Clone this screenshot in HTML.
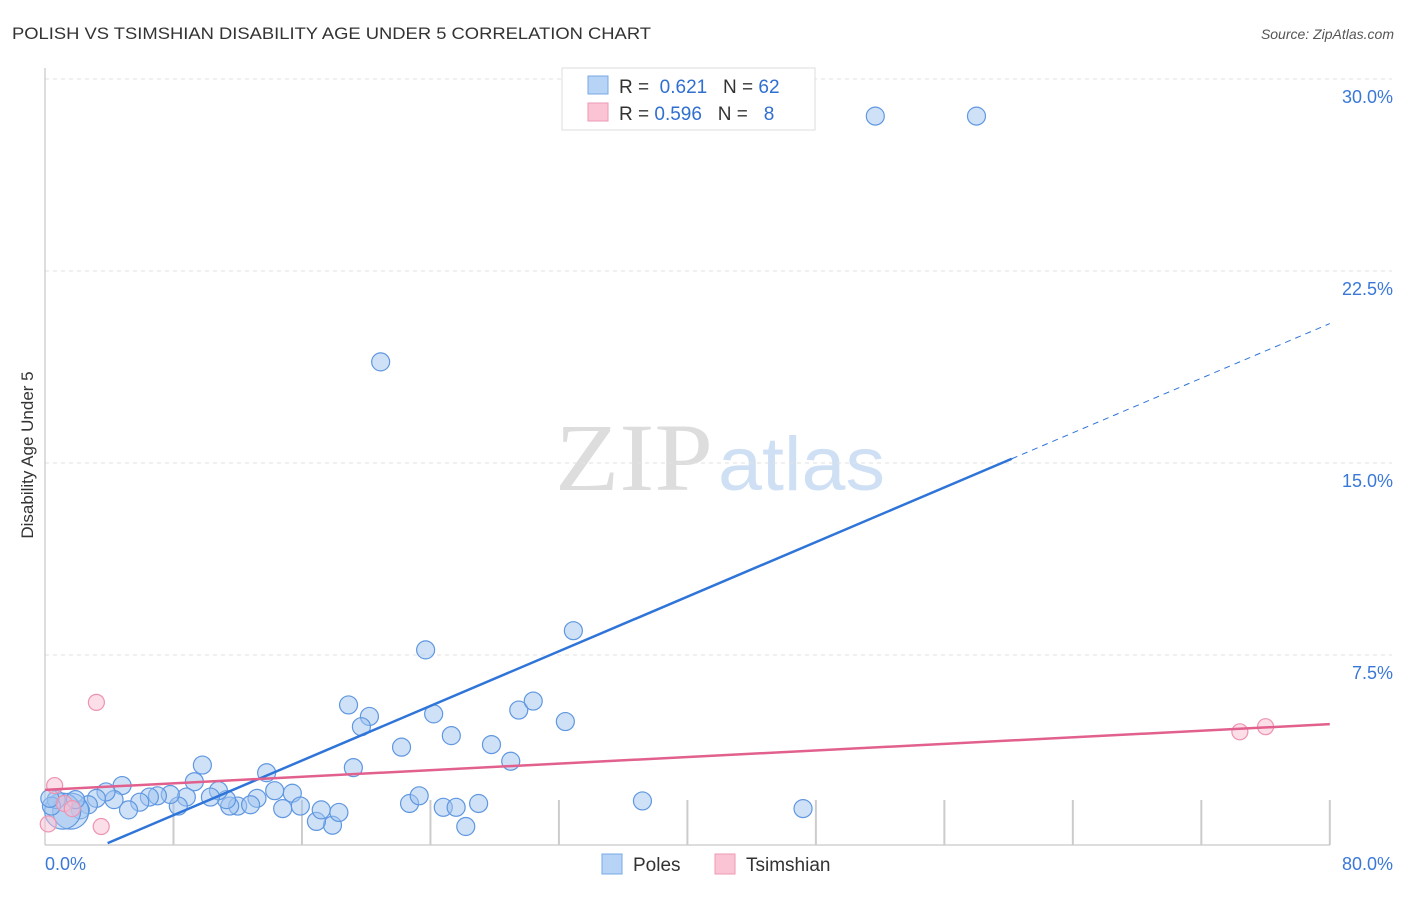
<!DOCTYPE html>
<html><head><meta charset="utf-8"><style>
body{margin:0;background:#fff;font-family:"Liberation Sans",sans-serif}
</style></head><body>
<svg width="1406" height="892" xmlns="http://www.w3.org/2000/svg">
<text x="12" y="39" font-size="17" fill="#333" textLength="639" lengthAdjust="spacingAndGlyphs">POLISH VS TSIMSHIAN DISABILITY AGE UNDER 5 CORRELATION CHART</text>
<text x="1394" y="39" font-size="14" fill="#555" font-style="italic" text-anchor="end">Source: ZipAtlas.com</text>
<text x="0" y="0" transform="translate(33,455) rotate(-90)" font-size="17" fill="#333" text-anchor="middle">Disability Age Under 5</text>
<text x="555" y="490" font-size="96" fill="#ddd" font-family="Liberation Serif" textLength="158" lengthAdjust="spacingAndGlyphs">ZIP</text>
<text x="718" y="490" font-size="76" fill="#cfe0f5" textLength="167" lengthAdjust="spacingAndGlyphs">atlas</text>
<g id="grid"></g><g id="marks"></g>
<g>
<rect x="562" y="68" width="253" height="62" fill="#fff" stroke="#ddd"/>
<rect x="588" y="76" width="20" height="18" fill="#b7d3f5" stroke="#7aaae8"/>
<rect x="588" y="103" width="20" height="18" fill="#fac4d4" stroke="#ef9ab4"/>
<text x="619" y="93" font-size="19" fill="#333">R = <tspan fill="#2f6fd0">&#160;0.621</tspan>&#160;&#160;&#160;N = <tspan fill="#2f6fd0">62</tspan></text>
<text x="619" y="120" font-size="19" fill="#333">R = <tspan fill="#2f6fd0">0.596</tspan>&#160;&#160;&#160;N = <tspan fill="#2f6fd0">&#160;&#160;8</tspan></text>
</g>
<g>
<rect x="602" y="854" width="20" height="20" fill="#b7d3f5" stroke="#7aaae8"/>
<text x="633" y="871" font-size="19" fill="#333">Poles</text>
<rect x="715" y="854" width="20" height="20" fill="#fac4d4" stroke="#ef9ab4"/>
<text x="746" y="871" font-size="19" fill="#333">Tsimshian</text>
</g>
</svg>
<script>
const yTicks=[30,22.5,15,7.5];
const yTickLabels=["30.0%","22.5%","15.0%","7.5%"];
const poles=[[51.7,28.55],[58.0,28.55],[20.9,18.95],[32.9,8.45],[23.7,7.7],[18.9,5.55],[20.2,5.1],[19.7,4.7],[24.2,5.2],[29.5,5.35],[30.4,5.7],[32.4,4.9],[25.3,4.35],[22.2,3.9],[27.8,4.0],[29.0,3.35],[19.2,3.1],[37.2,1.8],[47.2,1.5],[22.7,1.7],[23.3,2.0],[24.8,1.55],[25.6,1.55],[27.0,1.7],[26.2,0.8],[17.9,0.85],[16.9,1.0],[17.2,1.45],[18.3,1.35],[15.4,2.1],[14.3,2.2],[13.8,2.9],[14.8,1.5],[15.9,1.6],[13.2,1.9],[12.0,1.6],[11.5,1.6],[12.8,1.65],[11.3,1.85],[10.8,2.2],[10.3,1.95],[9.8,3.2],[9.3,2.55],[8.8,1.95],[8.3,1.6],[7.8,2.05],[7.0,2.0],[6.5,1.95],[5.9,1.75],[5.2,1.45],[4.8,2.4],[4.3,1.85],[3.8,2.15],[3.2,1.9],[2.7,1.65],[2.2,1.45],[1.6,1.4],[1.1,1.4],[0.7,1.85],[0.4,1.6],[1.9,1.85],[0.3,1.9]];
const tsimshian=[[3.2,5.65],[0.6,2.4],[0.2,0.9],[3.5,0.8],[74.4,4.5],[76.0,4.7],[1.2,1.7],[1.7,1.5]];
const polesFit=[0.2667,-0.89];
const tsimFit=[0.0321,2.23];
const X=v=>45+v*16.06, Y=v=>847-v*25.6;
const NS="http://www.w3.org/2000/svg";
function mk(p,t,a){const e=document.createElementNS(NS,t);for(const k in a)e.setAttribute(k,a[k]);p.appendChild(e);return e;}
const g=document.getElementById('grid'), m=document.getElementById('marks');
yTicks.forEach((t,i)=>{const l=mk(g,'line',{x1:45,x2:1392,y1:Y(t),y2:Y(t),stroke:'#e2e2e2','stroke-dasharray':'4,4'});


const tx=mk(g,'text',{x:1393,y:Y(t)+24,'font-size':18,fill:'#3a78d8','text-anchor':'end'});tx.textContent=yTickLabels[i];

});
mk(g,'line',{x1:45,x2:45,y1:68,y2:845,stroke:'#bbb'});
mk(g,'line',{x1:45,x2:1330,y1:845,y2:845,stroke:'#bbb'});
for(let v=8;v<=80;v+=8){const l=mk(g,'line',{x1:X(v),x2:X(v),y1:800,y2:845,stroke:'#ccc','stroke-width':2});

}
const x0=mk(g,'text',{x:45,y:870,'font-size':18,fill:'#3a78d8'});x0.textContent='0.0%';


const x1=mk(g,'text',{x:1393,y:870,'font-size':18,fill:'#3a78d8','text-anchor':'end'});x1.textContent='80.0%';


poles.forEach((p,i)=>{const r=(i==56||i==57)?18:9;const c=mk(m,'circle',{cx:X(p[0]),cy:Y(p[1]),r:r,fill:'rgba(160,196,240,0.5)',stroke:'#5f97e0','stroke-width':1.2});

});
tsimshian.forEach(p=>{const c=mk(m,'circle',{cx:X(p[0]),cy:Y(p[1]),r:8,fill:'rgba(250,190,210,0.5)',stroke:'#ee93b0','stroke-width':1.2});

});
const bx0=3.9,bx1=60.2;
let l=mk(m,'line',{x1:X(bx0),y1:Y(polesFit[0]*bx0+polesFit[1]),x2:X(bx1),y2:Y(polesFit[0]*bx1+polesFit[1]),stroke:'#2f74d8','stroke-width':2.5});


l=mk(m,'line',{x1:X(bx1),y1:Y(polesFit[0]*bx1+polesFit[1]),x2:X(80),y2:Y(polesFit[0]*80+polesFit[1]),stroke:'#2f74d8','stroke-width':1,'stroke-dasharray':'6,5'});


l=mk(m,'line',{x1:X(0),y1:Y(tsimFit[1]),x2:X(80),y2:Y(tsimFit[0]*80+tsimFit[1]),stroke:'#e2608d','stroke-width':2.5});


</script>
</body></html>
